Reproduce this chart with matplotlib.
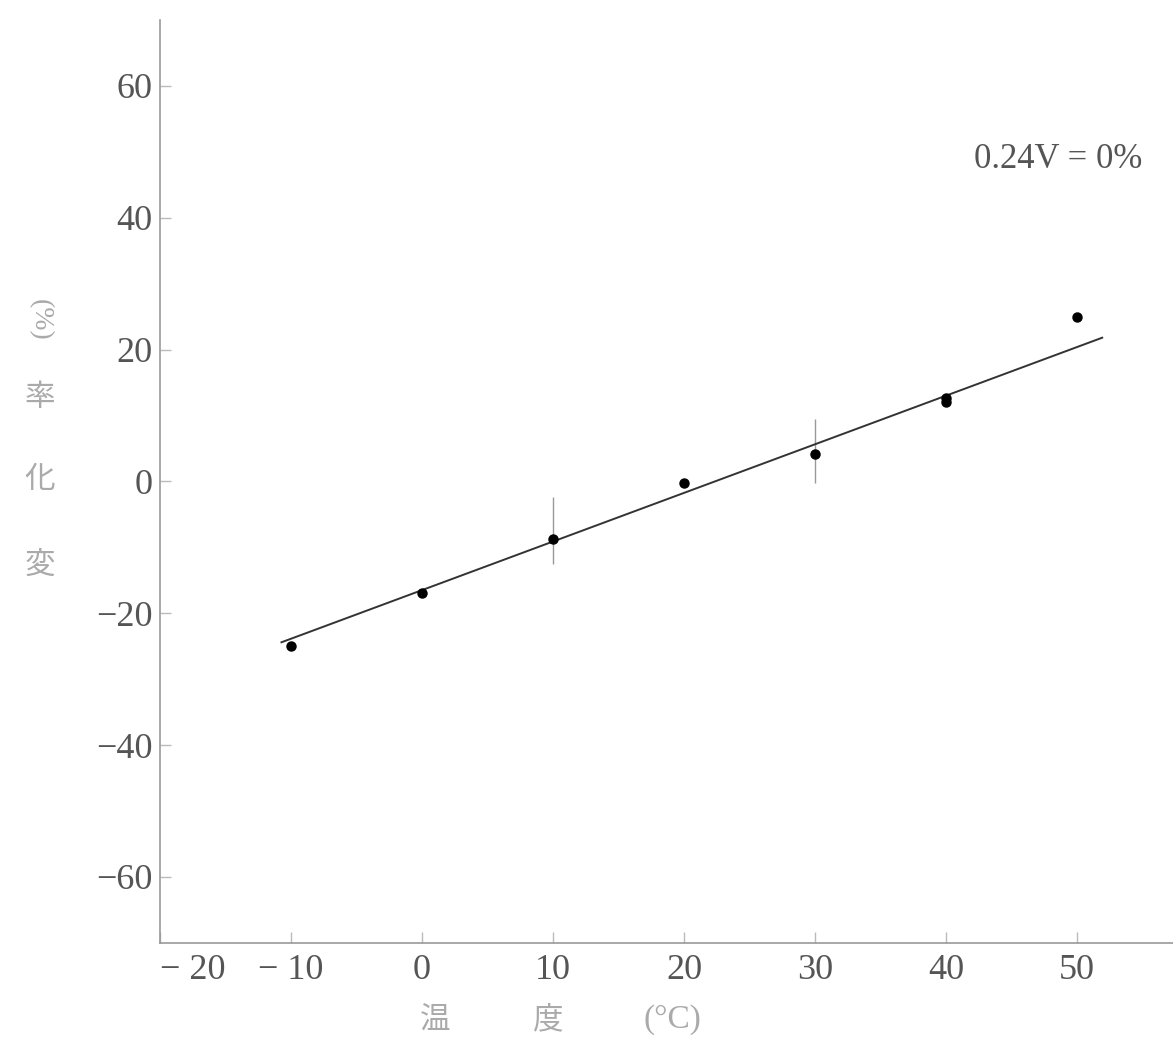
import matplotlib
matplotlib.use("Agg")
import matplotlib.pyplot as plt

# measured points
temps = [-10, 0, 10, 20, 30, 40, 40, 50]
change = [-25.0, -17.0, -8.8, -0.2, 4.1, 12.7, 12.1, 25.0]

# error bars (x, low, high)
err_x = [10, 30]
err_lo = [-12.6, -0.2]
err_hi = [-2.3, 9.4]

# fitted line end points
fit_x = [-10.7, 51.9]
fit_y = [-24.4, 21.8]

xticks = [-20, -10, 0, 10, 20, 30, 40, 50]
xtick_labels = ["\u2212 20", "\u2212 10", "0", "10", "20", "30", "40", "50"]
yticks = [-60, -40, -20, 0, 20, 40, 60]
ytick_labels = ["\u221260", "\u221240", "\u221220", "0", "20", "40", "60"]

serif = ["Liberation Serif", "DejaVu Serif"]
cjk = ["Noto Sans CJK JP", "DejaVu Sans"]
gray = "#555555"
light = "#aaaaaa"

fig = plt.figure(figsize=(11.73, 10.5), dpi=100)
ax = fig.add_axes([0.136, 0.102, 0.864, 0.879])

ax.vlines(err_x, err_lo, err_hi, color="#999999", lw=1.0)
ax.plot(fit_x, fit_y, color="#333333", lw=1.4)
ax.plot(temps, change, "o", color="black", ms=6.5)

ax.set_xlim(-20, 57.3)
ax.set_ylim(-70, 70)
for s in ["top", "right"]:
    ax.spines[s].set_visible(False)
for s in ["left", "bottom"]:
    ax.spines[s].set_color("#999999")
    ax.spines[s].set_linewidth(1.2)

ax.set_xticks(xticks)
ax.set_xticklabels(xtick_labels, family=serif, fontsize=26, color=gray)
ax.get_xticklabels()[0].set_ha("left")
ax.set_yticks(yticks)
ax.set_yticklabels(ytick_labels, family=serif, fontsize=26, color=gray)
ax.tick_params(direction="in", length=8, color="#bbbbbb", width=1)
ax.tick_params(axis="y", pad=5)
ax.tick_params(axis="x", pad=8)

ax.text(55, 48.8, "0.24V = 0%", family=serif, fontsize=25, color=gray,
        ha="right", va="center")

# vertical y label: stacked characters
for ch, py in zip(["変", "化", "率"], [565, 480, 398]):
    fig.text(40 / 1173, 1 - py / 1050, ch, family=cjk, fontsize=22,
             color=light, ha="center", va="center")
fig.text(40 / 1173, 1 - 320 / 1050, "(%)", family=serif, fontsize=20,
         color=light, ha="center", va="center", rotation=-90)

# x label
fig.text(435 / 1173, 1 - 1020 / 1050, "温", family=cjk, fontsize=22,
         color=light, ha="center", va="center")
fig.text(548 / 1173, 1 - 1020 / 1050, "度", family=cjk, fontsize=22,
         color=light, ha="center", va="center")
fig.text(672 / 1173, 1 - 1020 / 1050, "(\u00b0C)", family=serif, fontsize=24,
         color=light, ha="center", va="center")

fig.savefig("out.png", dpi=100, facecolor="white")
